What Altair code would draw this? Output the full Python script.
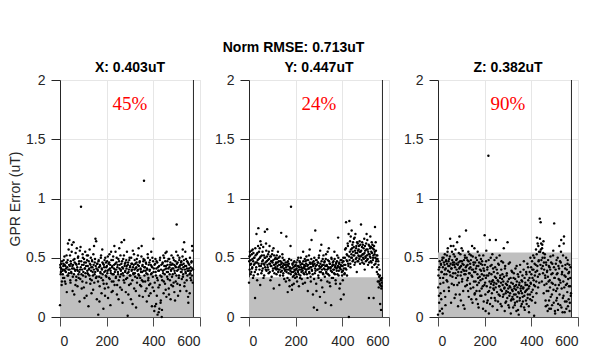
import altair as alt
import pandas as pd

# sample indices
idx_even = list(range(0, 572, 2))
idx_odd = list(range(1, 570, 2))

x_err_even = [0.10, 0.42, 0.38, 0.45, 0.30, 0.40, 0.36, 0.43, 0.48, 0.33, 0.44, 0.39, 0.28, 0.41, 0.52, 0.46, 0.35, 0.62, 0.40, 0.37,
              0.65, 0.43, 0.31, 0.47, 0.38, 0.55, 0.41, 0.22, 0.44, 0.63, 0.36, 0.49, 0.40, 0.27, 0.45, 0.34, 0.58, 0.42, 0.39, 0.51,
              0.33, 0.47, 0.13, 0.40, 0.59, 0.93, 0.36, 0.44, 0.30, 0.50, 0.38, 0.25, 0.46, 0.41, 0.55, 0.34, 0.43, 0.18, 0.48, 0.37,
              0.52, 0.09, 0.40, 0.35, 0.45, 0.28, 0.50, 0.42, 0.31, 0.47, 0.38, 0.23, 0.44, 0.60, 0.36, 0.49, 0.66, 0.33, 0.41, 0.15,
              0.45, 0.39, 0.02, 0.48, 0.34, 0.26, 0.43, 0.37, 0.52, 0.20, 0.40, 0.46, 0.31, 0.07, 0.44, 0.38, 0.24, 0.50, 0.35, 0.42,
              0.28, 0.47, 0.39, 0.16, 0.45, 0.33, 0.53, 0.41, 0.10, 0.37, 0.48, 0.30, 0.43, 0.22, 0.51, 0.36, 0.44, 0.27, 0.40, 0.55,
              0.34, 0.46, 0.19, 0.42, 0.38, 0.49, 0.31, 0.58, 0.44, 0.25, 0.40, 0.36, 0.63, 0.47, 0.12, 0.41, 0.35, 0.52, 0.29, 0.45,
              0.39, 0.21, 0.48, 0.43, 0.33, 0.01, 0.46, 0.38, 0.27, 0.50, 0.42, 0.35, 0.15, 0.45, 0.40, 0.31, 0.56, 0.37, 0.44, 0.24,
              0.48, 0.34, 0.41, 0.08, 0.46, 0.29, 0.39, 0.52, 0.36, 0.43, 0.18, 0.47, 0.33, 0.40, 0.26, 0.60, 0.38, 0.44, 0.30, 0.49,
              1.15, 0.35, 0.42, 0.22, 0.46, 0.37, 0.13, 0.40, 0.53, 0.31, 0.44, 0.27, 0.39, 0.48, 0.20, 0.36, 0.43, 0.09, 0.50, 0.34,
              0.66, 0.41, 0.05, 0.29, 0.45, 0.38, 0.11, 0.47, 0.33, 0.02, 0.42, 0.25, 0.39, 0.07, 0.48, 0.35, 0.14, 0.44, 0.00, 0.31,
              0.46, 0.37, 0.20, 0.50, 0.40, 0.28, 0.54, 0.43, 0.17, 0.38, 0.47, 0.32, 0.41, 0.24, 0.49, 0.36, 0.44, 0.15, 0.39, 0.52,
              0.34, 0.45, 0.26, 0.41, 0.48, 0.21, 0.37, 0.43, 0.30, 0.55, 0.78, 0.39, 0.46, 0.18, 0.42, 0.35, 0.50, 0.27, 0.44, 0.38,
              0.47, 0.32, 0.40, 0.57, 0.36, 0.45, 0.63, 0.29, 0.43, 0.38, 0.49, 0.22, 0.41, 0.35, 0.46, 0.12, 0.39, 0.44, 0.20, 0.37,
              0.42, 0.31, 0.47, 0.60, 0.56, 0.40]
x_err_odd = [0.44, 0.36, 0.41, 0.27, 0.47, 0.39, 0.33, 0.45, 0.40, 0.51, 0.30, 0.43, 0.38, 0.46, 0.21, 0.42, 0.48, 0.35, 0.57, 0.44,
             0.40, 0.52, 0.29, 0.45, 0.37, 0.61, 0.43, 0.34, 0.48, 0.41, 0.19, 0.46, 0.39, 0.54, 0.31, 0.44, 0.40, 0.26, 0.50, 0.36,
             0.45, 0.38, 0.56, 0.32, 0.42, 0.47, 0.24, 0.40, 0.53, 0.35, 0.44, 0.49, 0.16, 0.41, 0.37, 0.46, 0.29, 0.52, 0.39, 0.43,
             0.36, 0.47, 0.41, 0.57, 0.32, 0.44, 0.39, 0.20, 0.48, 0.42, 0.35, 0.53, 0.40, 0.29, 0.46, 0.38, 0.43, 0.64, 0.34, 0.45,
             0.40, 0.30, 0.47, 0.42, 0.13, 0.44, 0.38, 0.50, 0.33, 0.41, 0.57, 0.36, 0.45, 0.28, 0.42, 0.48, 0.18, 0.39, 0.46, 0.34,
             0.43, 0.37, 0.51, 0.25, 0.40, 0.46, 0.32, 0.44, 0.39, 0.55, 0.21, 0.42, 0.36, 0.48, 0.30, 0.41, 0.60, 0.38, 0.45, 0.33,
             0.40, 0.50, 0.27, 0.44, 0.36, 0.15, 0.47, 0.41, 0.34, 0.52, 0.39, 0.45, 0.23, 0.42, 0.37, 0.49, 0.31, 0.65, 0.43, 0.38,
             0.46, 0.32, 0.41, 0.55, 0.37, 0.44, 0.19, 0.40, 0.48, 0.35, 0.43, 0.28, 0.50, 0.39, 0.45, 0.11, 0.42, 0.36, 0.53, 0.40,
             0.37, 0.45, 0.22, 0.42, 0.49, 0.33, 0.44, 0.40, 0.58, 0.35, 0.46, 0.27, 0.41, 0.38, 0.51, 0.31, 0.43, 0.17, 0.47, 0.39,
             0.42, 0.48, 0.30, 0.39, 0.45, 0.24, 0.41, 0.36, 0.50, 0.33, 0.18, 0.46, 0.40, 0.28, 0.44, 0.55, 0.37, 0.42, 0.25, 0.47,
             0.38, 0.22, 0.44, 0.09, 0.49, 0.35, 0.41, 0.18, 0.46, 0.31, 0.39, 0.04, 0.43, 0.27, 0.50, 0.12, 0.40, 0.34, 0.06, 0.45,
             0.39, 0.52, 0.30, 0.43, 0.36, 0.47, 0.23, 0.41, 0.55, 0.34, 0.44, 0.38, 0.49, 0.19, 0.42, 0.31, 0.46, 0.40, 0.27, 0.44,
             0.41, 0.36, 0.50, 0.29, 0.44, 0.39, 0.14, 0.47, 0.42, 0.35, 0.45, 0.28, 0.52, 0.40, 0.33, 0.48, 0.43, 0.22, 0.41, 0.46,
             0.38, 0.44, 0.51, 0.34, 0.42, 0.48, 0.26, 0.40, 0.55, 0.37, 0.43, 0.31, 0.47, 0.39, 0.17, 0.45, 0.41, 0.36, 0.50, 0.33,
             0.39, 0.46, 0.35, 0.41, 0.29]

y_err_even = [0.29, 0.51, 0.55, 0.44, 0.48, 0.38, 0.53, 0.42, 0.57, 0.47, 0.35, 0.50, 0.45, 0.16, 0.52, 0.40, 0.70, 0.46, 0.54, 0.36,
              0.75, 0.49, 0.43, 0.58, 0.27, 0.51, 0.61, 0.45, 0.39, 0.55, 0.48, 0.33, 0.52, 0.44, 0.72, 0.50, 0.40, 0.56, 0.47, 0.74,
              0.42, 0.53, 0.37, 0.49, 0.60, 0.45, 0.31, 0.51, 0.43, 0.47, 0.56, 0.39, 0.48, 0.24, 0.52, 0.44, 0.41, 0.50, 0.46, 0.36,
              0.49, 0.43, 0.55, 0.40, 0.47, 0.27, 0.51, 0.44, 0.38, 0.71, 0.46, 0.42, 0.50, 0.35, 0.45, 0.41, 0.48, 0.39, 0.44, 0.30,
              0.68, 0.40, 0.46, 0.21, 0.43, 0.37, 0.49, 0.26, 0.41, 0.60, 0.93, 0.38, 0.23, 0.45, 0.34, 0.42, 0.28, 0.47, 0.39, 0.33,
              0.44, 0.36, 0.41, 0.30, 0.48, 0.38, 0.43, 0.26, 0.40, 0.46, 0.35, 0.50, 0.42, 0.32, 0.45, 0.39, 0.55, 0.37, 0.44, 0.41,
              0.29, 0.47, 0.40, 0.51, 0.36, 0.43, 0.22, 0.48, 0.41, 0.38, 0.57, 0.45, 0.34, 0.42, 0.65, 0.39, 0.46, 0.19, 0.44, 0.08,
              0.50, 0.37, 0.73, 0.43, 0.28, 0.48, 0.06, 0.40, 0.46, 0.33, 0.52, 0.41, 0.17, 0.45, 0.38, 0.61, 0.43, 0.25, 0.49, 0.36,
              0.44, 0.21, 0.47, 0.40, 0.12, 0.53, 0.37, 0.43, 0.30, 0.48, 0.41, 0.58, 0.35, 0.45, 0.26, 0.42, 0.10, 0.49, 0.38, 0.44,
              0.33, 0.47, 0.40, 0.55, 0.36, 0.43, 0.28, 0.46, 0.39, 0.52, 0.42, 0.67, 0.35, 0.45, 0.24, 0.41, 0.48, 0.15, 0.43, 0.38,
              0.46, 0.31, 0.50, 0.19, 0.44, 0.37, 0.57, 0.41, 0.80, 0.48, 0.35, 0.52, 0.60, 0.43, 0.00, 0.81, 0.55, 0.45, 0.68, 0.50,
              0.73, 0.58, 0.47, 0.63, 0.52, 0.66, 0.44, 0.56, 0.70, 0.49, 0.60, 0.38, 0.54, 0.62, 0.47, 0.57, 0.51, 0.64, 0.45, 0.55,
              0.78, 0.52, 0.59, 0.46, 0.61, 0.53, 0.49, 0.66, 0.40, 0.56, 0.50, 0.62, 0.70, 0.48, 0.57, 0.44, 0.53, 0.16, 0.60, 0.51,
              0.68, 0.47, 0.55, 0.63, 0.42, 0.58, 0.50, 0.16, 0.60, 0.53, 0.76, 0.45, 0.56, 0.49, 0.38, 0.52, 0.30, 0.47, 0.25, 0.34,
              0.28, 0.11, 0.32, 0.06, 0.26, 0.33]
y_err_odd = [0.47, 0.40, 0.52, 0.36, 0.45, 0.56, 0.41, 0.49, 0.33, 0.54, 0.44, 0.50, 0.38, 0.58, 0.46, 0.42, 0.53, 0.31, 0.48, 0.60,
             0.45, 0.55, 0.40, 0.50, 0.64, 0.43, 0.37, 0.52, 0.47, 0.41, 0.59, 0.45, 0.35, 0.50, 0.42, 0.46, 0.62, 0.39, 0.51, 0.44,
             0.48, 0.40, 0.55, 0.45, 0.38, 0.51, 0.43, 0.47, 0.34, 0.53, 0.46, 0.41, 0.58, 0.44, 0.37, 0.49, 0.42, 0.45, 0.40, 0.52,
             0.41, 0.46, 0.38, 0.50, 0.44, 0.40, 0.35, 0.47, 0.42, 0.45, 0.39, 0.53, 0.43, 0.37, 0.48, 0.32, 0.44, 0.40, 0.46, 0.42,
             0.38, 0.44, 0.33, 0.47, 0.40, 0.45, 0.31, 0.42, 0.39, 0.36, 0.48, 0.41, 0.27, 0.44, 0.38, 0.46, 0.35, 0.40, 0.43, 0.37,
             0.40, 0.46, 0.34, 0.43, 0.39, 0.50, 0.36, 0.42, 0.47, 0.33, 0.44, 0.40, 0.38, 0.45, 0.41, 0.28, 0.47, 0.42, 0.36, 0.49,
             0.43, 0.38, 0.45, 0.40, 0.48, 0.33, 0.44, 0.41, 0.52, 0.37, 0.46, 0.42, 0.30, 0.49, 0.40, 0.45, 0.36, 0.43, 0.47, 0.32,
             0.45, 0.41, 0.39, 0.48, 0.22, 0.44, 0.40, 0.46, 0.35, 0.50, 0.43, 0.38, 0.56, 0.42, 0.31, 0.47, 0.40, 0.44, 0.37, 0.52,
             0.41, 0.46, 0.34, 0.43, 0.49, 0.38, 0.44, 0.40, 0.55, 0.36, 0.42, 0.47, 0.29, 0.45, 0.41, 0.39, 0.50, 0.33, 0.43, 0.46,
             0.40, 0.44, 0.37, 0.49, 0.42, 0.31, 0.45, 0.41, 0.47, 0.36, 0.43, 0.50, 0.39, 0.46, 0.42, 0.28, 0.44, 0.40, 0.48, 0.35,
             0.43, 0.39, 0.47, 0.41, 0.36, 0.50, 0.44, 0.58, 0.40, 0.53, 0.47, 0.62, 0.45, 0.70, 0.51, 0.48, 0.64, 0.42, 0.57, 0.53,
             0.50, 0.61, 0.55, 0.48, 0.59, 0.52, 0.67, 0.46, 0.54, 0.58, 0.50, 0.63, 0.47, 0.56, 0.52, 0.60, 0.49, 0.55, 0.61, 0.51,
             0.56, 0.48, 0.63, 0.53, 0.50, 0.58, 0.45, 0.54, 0.60, 0.51, 0.47, 0.57, 0.52, 0.65, 0.49, 0.55, 0.61, 0.46, 0.53, 0.58,
             0.50, 0.59, 0.46, 0.54, 0.61, 0.48, 0.52, 0.57, 0.44, 0.55, 0.50, 0.63, 0.47, 0.52, 0.42, 0.49, 0.36, 0.44, 0.30, 0.40,
             0.35, 0.27, 0.31, 0.24, 0.29]

z_err_even = [0.02, 0.35, 0.18, 0.42, 0.05, 0.28, 0.45, 0.15, 0.38, 0.48, 0.03, 0.33, 0.50, 0.22, 0.44, 0.40, 0.10, 0.47, 0.36, 0.52,
              0.30, 0.58, 0.43, 0.25, 0.49, 0.38, 0.66, 0.45, 0.12, 0.41, 0.55, 0.34, 0.46, 0.60, 0.27, 0.44, 0.51, 0.37, 0.19, 0.48,
              0.40, 0.63, 0.35, 0.09, 0.46, 0.29, 0.68, 0.42, 0.53, 0.14, 0.38, 0.47, 0.32, 0.56, 0.22, 0.44, 0.39, 0.07, 0.50, 0.36,
              0.73, 0.43, 0.27, 0.48, 0.33, 0.55, 0.17, 0.41, 0.37, 0.45, 0.24, 0.52, 0.35, 0.60, 0.12, 0.40, 0.46, 0.30, 0.58, 0.20,
              0.38, 0.50, 0.15, 0.43, 0.27, 0.55, 0.33, 0.08, 0.46, 0.22, 0.40, 0.31, 0.49, 0.18, 0.36, 0.44, 0.26, 0.52, 0.13, 0.39,
              0.69, 0.29, 0.05, 0.47, 0.35, 0.12, 0.42, 0.21, 1.36, 0.03, 0.37, 0.65, 0.25, 0.50, 0.16, 0.44, 0.30, 0.09, 0.41, 0.27,
              0.23, 0.48, 0.34, 0.14, 0.65, 0.28, 0.40, 0.06, 0.31, 0.45, 0.19, 0.26, 0.52, 0.33, 0.11, 0.29, 0.47, 0.22, 0.36, 0.17,
              0.30, 0.58, 0.24, 0.05, 0.43, 0.20, 0.13, 0.35, 0.27, 0.63, 0.21, 0.10, 0.32, 0.18, 0.46, 0.25, 0.03, 0.29, 0.15, 0.38,
              0.22, 0.08, 0.33, 0.19, 0.26, 0.12, 0.41, 0.23, 0.05, 0.30, 0.17, 0.36, 0.21, 0.02, 0.27, 0.14, 0.44, 0.24, 0.09, 0.31,
              0.20, 0.35, 0.13, 0.25, 0.47, 0.18, 0.06, 0.29, 0.22, 0.38, 0.11, 0.27, 0.16, 0.42, 0.24, 0.04, 0.33, 0.19, 0.50, 0.28,
              0.36, 0.14, 0.40, 0.23, 0.52, 0.31, 0.01, 0.45, 0.26, 0.38, 0.57, 0.20, 0.67, 0.43, 0.34, 0.60, 0.48, 0.29, 0.83, 0.55,
              0.80, 0.62, 0.41, 0.58, 0.50, 0.37, 0.64, 0.46, 0.27, 0.53, 0.33, 0.09, 0.44, 0.22, 0.39, 0.05, 0.48, 0.30, 0.14, 0.42,
              0.25, 0.51, 0.07, 0.36, 0.19, 0.45, 0.28, 0.56, 0.12, 0.79, 0.33, 0.03, 0.40, 0.22, 0.48, 0.16, 0.37, 0.06, 0.43, 0.27,
              0.60, 0.31, 0.10, 0.46, 0.65, 0.24, 0.38, 0.04, 0.52, 0.18, 0.68, 0.35, 0.13, 0.44, 0.27, 0.07, 0.40, 0.21, 0.48, 0.32,
              0.15, 0.38, 0.05, 0.26, 0.42, 0.20]
z_err_odd = [0.25, 0.40, 0.12, 0.47, 0.33, 0.20, 0.44, 0.38, 0.07, 0.50, 0.42, 0.29, 0.46, 0.36, 0.53, 0.17, 0.41, 0.48, 0.31, 0.45,
             0.55, 0.39, 0.47, 0.22, 0.43, 0.51, 0.35, 0.60, 0.41, 0.28, 0.48, 0.44, 0.37, 0.53, 0.46, 0.16, 0.42, 0.57, 0.33, 0.45,
             0.49, 0.27, 0.44, 0.38, 0.54, 0.41, 0.19, 0.47, 0.35, 0.43, 0.58, 0.30, 0.45, 0.40, 0.10, 0.48, 0.36, 0.52, 0.26, 0.42,
             0.39, 0.50, 0.31, 0.44, 0.22, 0.47, 0.37, 0.53, 0.28, 0.42, 0.48, 0.15, 0.40, 0.34, 0.51, 0.25, 0.44, 0.38, 0.19, 0.46,
             0.30, 0.41, 0.22, 0.48, 0.36, 0.11, 0.43, 0.29, 0.52, 0.34, 0.18, 0.45, 0.39, 0.24, 0.47, 0.32, 0.07, 0.41, 0.35, 0.27,
             0.44, 0.19, 0.33, 0.56, 0.26, 0.40, 0.14, 0.35, 0.48, 0.22, 0.30, 0.11, 0.43, 0.28, 0.36, 0.20, 0.53, 0.31, 0.24, 0.38,
             0.29, 0.16, 0.42, 0.25, 0.33, 0.50, 0.21, 0.37, 0.13, 0.30, 0.44, 0.26, 0.18, 0.35, 0.23, 0.40, 0.09, 0.32, 0.27, 0.46,
             0.19, 0.34, 0.25, 0.41, 0.12, 0.28, 0.22, 0.37, 0.16, 0.30, 0.24, 0.45, 0.08, 0.26, 0.20, 0.33, 0.14, 0.39, 0.23, 0.17,
             0.28, 0.15, 0.37, 0.24, 0.10, 0.32, 0.19, 0.27, 0.43, 0.13, 0.25, 0.06, 0.34, 0.20, 0.29, 0.16, 0.38, 0.22, 0.26, 0.11,
             0.30, 0.17, 0.24, 0.40, 0.08, 0.33, 0.21, 0.27, 0.14, 0.36, 0.23, 0.45, 0.19, 0.31, 0.09, 0.26, 0.38, 0.15, 0.29, 0.42,
             0.21, 0.47, 0.33, 0.17, 0.40, 0.27, 0.50, 0.35, 0.12, 0.44, 0.30, 0.53, 0.39, 0.62, 0.25, 0.47, 0.55, 0.36, 0.66, 0.44,
             0.57, 0.48, 0.30, 0.61, 0.43, 0.54, 0.20, 0.40, 0.50, 0.35, 0.14, 0.46, 0.28, 0.38, 0.10, 0.34, 0.22, 0.43, 0.07, 0.31,
             0.40, 0.17, 0.46, 0.29, 0.10, 0.37, 0.52, 0.23, 0.42, 0.33, 0.05, 0.27, 0.45, 0.14, 0.36, 0.24, 0.50, 0.11, 0.32, 0.41,
             0.19, 0.47, 0.29, 0.55, 0.08, 0.36, 0.43, 0.16, 0.30, 0.62, 0.25, 0.04, 0.41, 0.34, 0.50, 0.13, 0.28, 0.45, 0.09, 0.37,
             0.26, 0.44, 0.12, 0.33, 0.18]

panel_titles = ["X: 0.403uT", "Y: 0.447uT", "Z: 0.382uT"]
panel_pcts = ["45%", "24%", "90%"]
shade_levels = [0.355, 0.335, 0.545]
shade_x = [0, 572]
end_line_x = 572
pct_pos = (300, 1.8)
main_title = "Norm RMSE: 0.713uT"

SANS = "Liberation Sans"
xscale = alt.Scale(domain=[0, 600], nice=False)
yscale = alt.Scale(domain=[0, 2], nice=False)


def make_panel(title, pct, shade, y_even, y_odd, first):
    pts = pd.DataFrame({"x": idx_even + idx_odd, "y": y_even + y_odd})
    shade_df = pd.DataFrame({"x": shade_x, "y": [shade, shade]})
    xaxis = alt.Axis(values=[0, 200, 400, 600], format="d", title="", labelFontSize=14,
                     labelFont=SANS, labelColor="#262626", tickColor="#4d4d4d",
                     domainColor="#4d4d4d", gridColor="#e6e6e6", tickSize=9, labelPadding=8)
    ykw = dict(values=[0, 0.5, 1, 1.5, 2], format="~g", labelFontSize=14, labelFont=SANS,
               labelColor="#262626", tickColor="#262626", domainColor="#262626",
               gridColor="#e6e6e6", tickSize=9, labelPadding=6)
    if first:
        ykw.update(title="GPR Error (uT)", titleFont=SANS, titleFontSize=14,
                   titleFontWeight="normal", titleColor="#262626", titlePadding=3)
    else:
        ykw.update(title="")
    yaxis = alt.Axis(**ykw)

    X = alt.X("x:Q", scale=xscale, axis=xaxis)
    Y = alt.Y("y:Q", scale=yscale, axis=yaxis)

    area = alt.Chart(shade_df).mark_area(color="#bfbfbf", opacity=1).encode(x=X, y=Y)
    vline = alt.Chart(pd.DataFrame({"x": [end_line_x]})).mark_rule(color="#262626", strokeWidth=1).encode(x=X)
    dots = alt.Chart(pts).mark_circle(color="black", size=6, opacity=1).encode(x=X, y=Y)
    txt = alt.Chart(pd.DataFrame({"x": [pct_pos[0]], "y": [pct_pos[1]], "t": [pct]})).mark_text(
        color="red", font="Liberation Serif", fontSize=19
    ).encode(x=X, y=Y, text="t:N")
    return alt.layer(area, vline, dots, txt).properties(
        width=140, height=237,
        title=alt.TitleParams(title, font=SANS, fontSize=14, fontWeight="bold", color="black", offset=-2),
    )


series = [(x_err_even, x_err_odd), (y_err_even, y_err_odd), (z_err_even, z_err_odd)]
panels = [make_panel(panel_titles[i], panel_pcts[i], shade_levels[i], ev, od, i == 0)
          for i, (ev, od) in enumerate(series)]

chart = alt.hconcat(*panels, spacing=49, bounds="flush").properties(
    title=alt.TitleParams(main_title, font=SANS, fontSize=14, fontWeight="bold", color="black",
                          anchor="middle", offset=6),
    padding={"left": 0, "top": 32, "right": 5, "bottom": 5},
).configure_view(stroke=None).configure(background="white")

chart.save("out.html", embed_options={"renderer": "svg", "actions": False})
